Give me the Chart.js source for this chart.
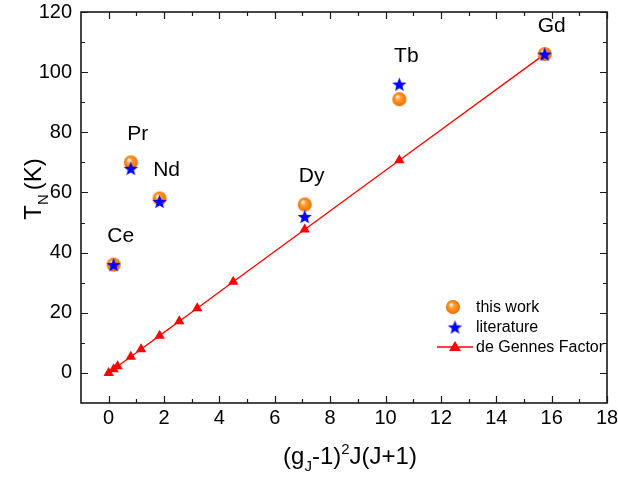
<!DOCTYPE html>
<html>
<head>
<meta charset="utf-8">
<script src="https://cdn.jsdelivr.net/npm/chart.js@4/dist/chart.umd.min.js"></script>
<style>
  html, body { margin: 0; padding: 0; background: #fff; }
</style>
</head>
<body>
<canvas id="chart" width="618" height="477"></canvas>
<script>
// Néel temperatures of the rare-earth compounds vs. de Gennes factor
const elements      = ['Ce', 'Pr', 'Nd', 'Dy', 'Tb', 'Gd'];
const deGennes      = [0.18, 0.80, 1.84, 7.08, 10.50, 15.75];
const tnThisWork    = [36, 70, 58, 56, 91, 106];
const tnLiterature  = [36, 68, 57, 52, 96, 106];

// de Gennes scaling line (all R ions)
const dgLineX = [0, 0.18, 0.32, 0.80, 1.17, 1.84, 2.55, 3.20, 4.50, 7.08, 10.50, 15.75];
const dgLineY = [0, 1.2, 2.2, 5.4, 7.9, 12.4, 17.2, 21.5, 30.3, 47.7, 70.7, 106];

// axis ticks
const xMajor = [0, 2, 4, 6, 8, 10, 12, 14, 16, 18];
const xMinor = [1, 3, 5, 7, 9, 11, 13, 15, 17];
const yMajor = [0, 20, 40, 60, 80, 100, 120];
const yMinor = [10, 30, 50, 70, 90, 110];

const FONT = "'Liberation Sans', Arial, Helvetica, sans-serif";

// orange shaded sphere marker
function makeSphere(r) {
  const c = document.createElement('canvas');
  const s = Math.ceil(r * 2 + 2);
  c.width = s; c.height = s;
  const g = c.getContext('2d');
  const cx = s / 2, cy = s / 2;
  const grad = g.createRadialGradient(cx - r * 0.3, cy - r * 0.35, r * 0.1, cx, cy, r);
  grad.addColorStop(0, '#fff3e0');
  grad.addColorStop(0.3, '#ffa040');
  grad.addColorStop(0.75, '#ff8000');
  grad.addColorStop(1, '#e06a00');
  g.fillStyle = grad;
  g.beginPath(); g.arc(cx, cy, r, 0, Math.PI * 2); g.fill();
  return c;
}

// five-pointed blue star marker
function makeStar(ro, ri, color) {
  const c = document.createElement('canvas');
  const s = Math.ceil(ro * 2 + 2);
  c.width = s; c.height = s;
  const g = c.getContext('2d');
  const cx = s / 2, cy = s / 2 + ro * 0.1;
  g.fillStyle = color;
  g.beginPath();
  for (let i = 0; i < 10; i++) {
    const r = i % 2 === 0 ? ro : ri;
    const a = -Math.PI / 2 + i * Math.PI / 5;
    const px = cx + r * Math.cos(a), py = cy + r * Math.sin(a);
    if (i === 0) g.moveTo(px, py); else g.lineTo(px, py);
  }
  g.closePath(); g.fill();
  return c;
}

const sphereImg = makeSphere(7);
const starImg = makeStar(7.5, 3.2, '#0000ff');

function drawRich(ctx, parts, x, y, size, align) {
  // parts: {t, s} with s = 0 normal, -1 subscript, 1 superscript
  const small = Math.round(size * 0.62);
  let total = 0;
  parts.forEach(p => {
    ctx.font = (p.s ? small : size) + 'px ' + FONT;
    p.w = ctx.measureText(p.t).width + (p.gap || 0);
    total += p.w;
  });
  let cx = align === 'center' ? x - total / 2 : x;
  ctx.textBaseline = 'alphabetic';
  ctx.textAlign = 'left';
  parts.forEach(p => {
    ctx.font = (p.s ? small : size) + 'px ' + FONT;
    const dy = p.s === -1 ? size * 0.28 : (p.s === 1 ? -size * 0.42 : 0);
    ctx.fillText(p.t, cx, y + dy);
    cx += p.w;
  });
}

const decorPlugin = {
  id: 'decor',
  afterDatasetsDraw(chart) {
    const ctx = chart.ctx;
    const a = chart.chartArea;
    const xs = chart.scales.x, ys = chart.scales.y;
    ctx.save();

    // element labels above each pair of points
    ctx.fillStyle = '#000';
    ctx.font = '21px ' + FONT;
    ctx.textAlign = 'center';
    ctx.textBaseline = 'middle';
    elements.forEach((el, i) => {
      const px = xs.getPixelForValue(deGennes[i]);
      const py = Math.min(ys.getPixelForValue(tnThisWork[i]), ys.getPixelForValue(tnLiterature[i]));
      ctx.fillText(el, px + 7, py - 28);
    });

    // frame
    ctx.strokeStyle = '#1a1a1a';
    ctx.lineWidth = 1.6;
    ctx.strokeRect(a.left, a.top, a.right - a.left, a.bottom - a.top);

    // inward ticks on all four sides
    ctx.lineWidth = 1.2;
    ctx.beginPath();
    const tickX = (v, len) => {
      const p = Math.round(xs.getPixelForValue(v)) + 0.5;
      ctx.moveTo(p, a.bottom); ctx.lineTo(p, a.bottom - len);
      ctx.moveTo(p, a.top); ctx.lineTo(p, a.top + len);
    };
    const tickY = (v, len) => {
      const p = Math.round(ys.getPixelForValue(v)) + 0.5;
      ctx.moveTo(a.left, p); ctx.lineTo(a.left + len, p);
      ctx.moveTo(a.right, p); ctx.lineTo(a.right - len, p);
    };
    xMajor.forEach(v => tickX(v, 7));
    xMinor.forEach(v => tickX(v, 4));
    yMajor.forEach(v => tickY(v, 7));
    yMinor.forEach(v => tickY(v, 4));
    ctx.stroke();

    // axis titles
    ctx.fillStyle = '#000';
    drawRich(ctx, [{t: '(g', s: 0}, {t: 'J', s: -1}, {t: '-1)', s: 0}, {t: '2', s: 1}, {t: 'J(J+1)', s: 0}],
      (a.left + a.right) / 2 + 6, 464, 24, 'center');
    ctx.save();
    ctx.translate(41, 189);
    ctx.rotate(-Math.PI / 2);
    drawRich(ctx, [{t: 'T', s: 0}, {t: 'N', s: -1, gap: 4}, {t: '(K)', s: 0}], 0, 0, 24, 'center');
    ctx.restore();

    // legend
    const lx = 455;
    ctx.font = '16px ' + FONT;
    ctx.textAlign = 'left';
    ctx.textBaseline = 'middle';
    ctx.drawImage(sphereImg, lx - 2 - sphereImg.width / 2, 307 - sphereImg.height / 2);
    ctx.fillText('this work', 476, 308);
    ctx.drawImage(starImg, lx - starImg.width / 2, 327 - starImg.height / 2);
    ctx.fillText('literature', 476, 328);
    ctx.strokeStyle = '#ff0000';
    ctx.lineWidth = 1.3;
    ctx.beginPath(); ctx.moveTo(437, 347); ctx.lineTo(473, 347); ctx.stroke();
    ctx.fillStyle = '#ff0000';
    ctx.beginPath();
    ctx.moveTo(lx, 341); ctx.lineTo(lx + 6, 351); ctx.lineTo(lx - 6, 351); ctx.closePath(); ctx.fill();
    ctx.fillStyle = '#000';
    ctx.fillText('de Gennes Factor', 476, 348);

    ctx.restore();
  }
};

const tickFont = { family: FONT, size: 20 };

new Chart(document.getElementById('chart'), {
  type: 'scatter',
  data: {
    datasets: [
      {
        label: 'literature',
        data: deGennes.map((x, i) => ({ x, y: tnLiterature[i] })),
        pointStyle: starImg,
        order: 0
      },
      {
        label: 'this work',
        data: deGennes.map((x, i) => ({ x, y: tnThisWork[i] })),
        pointStyle: sphereImg,
        order: 1
      },
      {
        label: 'de Gennes Factor',
        type: 'line',
        data: dgLineX.map((x, i) => ({ x, y: dgLineY[i] })),
        borderColor: '#ff0000',
        backgroundColor: '#ff0000',
        borderWidth: 1.3,
        pointStyle: 'triangle',
        pointRadius: 6,
        pointBorderWidth: 0,
        tension: 0,
        fill: false,
        order: 2
      }
    ]
  },
  options: {
    responsive: false,
    animation: false,
    layout: { padding: { left: 0, right: 11, top: 12, bottom: 0 } },
    plugins: { legend: { display: false }, tooltip: { enabled: false } },
    scales: {
      x: {
        type: 'linear',
        min: -1, max: 18,
        afterBuildTicks: s => { s.ticks = xMajor.map(v => ({ value: v })); },
        afterFit: s => { s.height = 74; s.paddingLeft = 0; s.paddingRight = 0; },
        grid: { display: false, drawTicks: false },
        border: { display: false },
        ticks: { font: tickFont, color: '#000', padding: 3, maxRotation: 0, autoSkip: false }
      },
      y: {
        type: 'linear',
        min: -10, max: 120,
        afterBuildTicks: s => { s.ticks = yMajor.map(v => ({ value: v })); },
        afterFit: s => { s.width = 81; s.paddingTop = 0; s.paddingBottom = 0; },
        grid: { display: false, drawTicks: false },
        border: { display: false },
        ticks: { font: tickFont, color: '#000', padding: 9, autoSkip: false }
      }
    }
  },
  plugins: [decorPlugin]
});
</script>
</body>
</html>
